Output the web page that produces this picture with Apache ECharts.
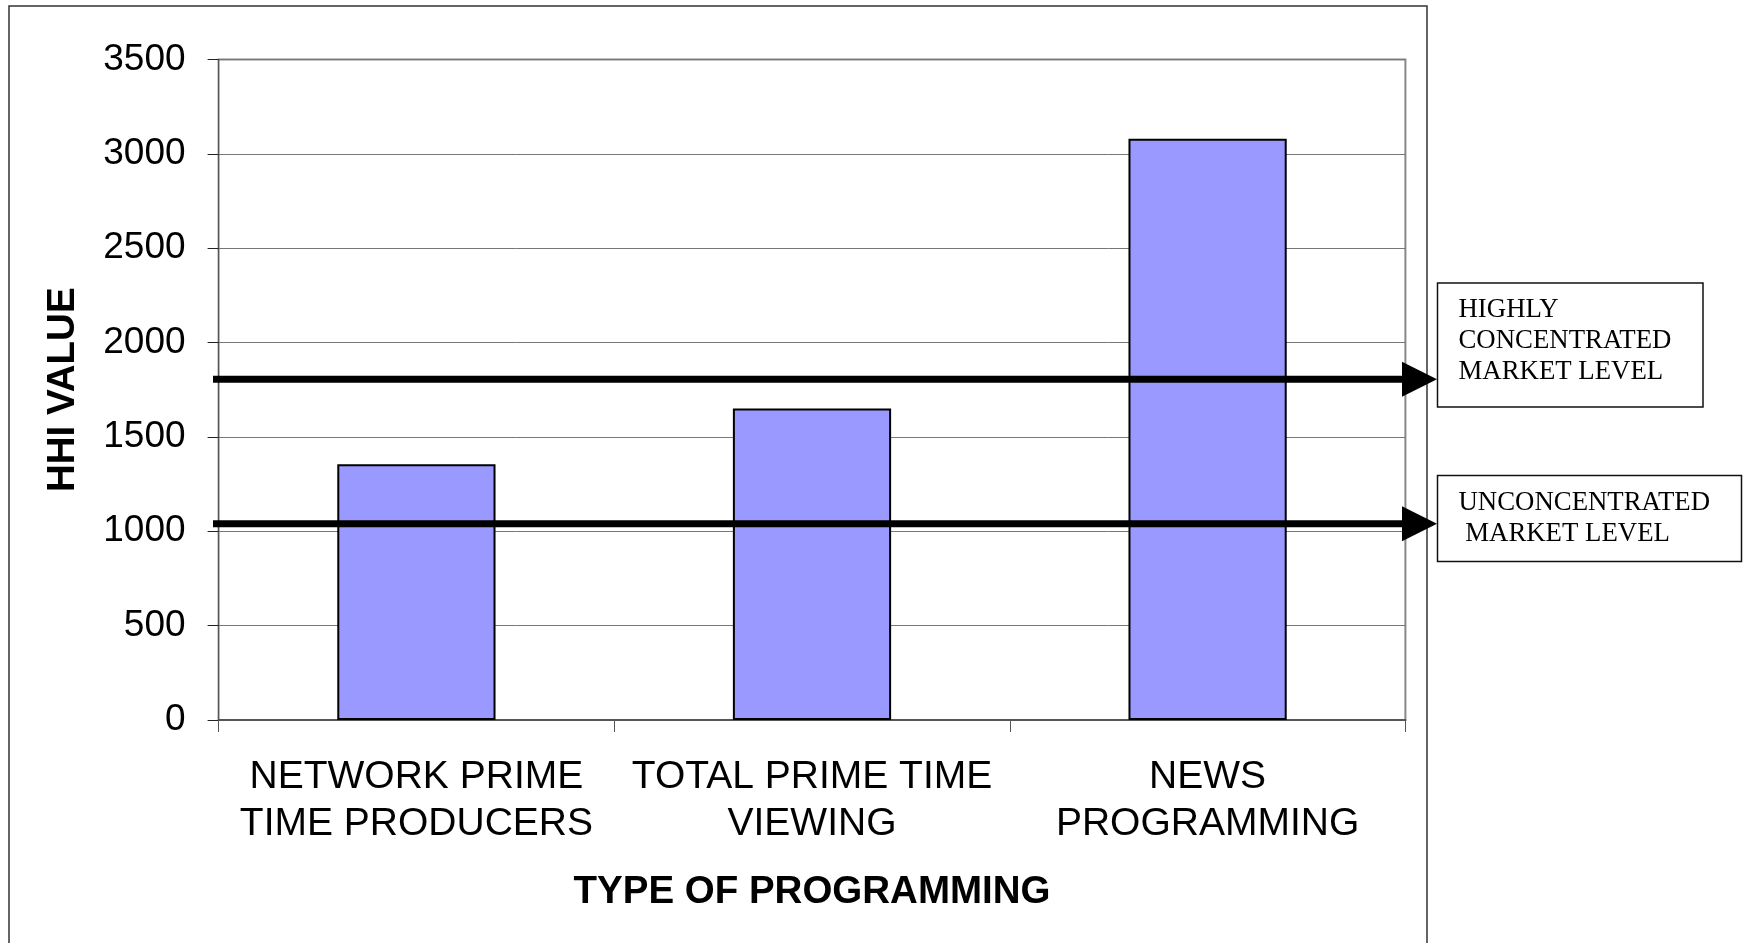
<!DOCTYPE html>
<html>
<head>
<meta charset="utf-8">
<script src="https://cdn.jsdelivr.net/npm/echarts@6/dist/echarts.min.js"></script>
<style>
html,body{margin:0;padding:0;background:#fff;}
#chart{width:1749px;height:943px;}
</style>
</head>
<body>
<div id="chart"></div>
<script>
// ---- data ----
const categories = ['NETWORK PRIME\nTIME PRODUCERS', 'TOTAL PRIME TIME\nVIEWING', 'NEWS\nPROGRAMMING'];
const hhiValues = [1355, 1650, 3080];
const thresholdValues = [1805, 1040];
const thresholdLabels = ['HIGHLY\nCONCENTRATED\nMARKET LEVEL', 'UNCONCENTRATED\n MARKET LEVEL'];
const yMin = 0, yMax = 3500, yInterval = 500;
const xAxisTitle = 'TYPE OF PROGRAMMING';
const yAxisTitle = 'HHI VALUE';

const SANS = "'Liberation Sans', Arial, sans-serif";
const SERIF = "'Liberation Serif', 'Times New Roman', serif";

const chart = echarts.init(document.getElementById('chart'), null, {renderer: 'canvas'});

const option = {
  animation: false,
  backgroundColor: '#fff',
  grid: {
    left: 218.6, right: 343.6, top: 59.5, bottom: 223,
    show: true, borderColor: '#888', borderWidth: 2, backgroundColor: 'transparent'
  },
  xAxis: {
    type: 'category',
    data: categories,
    boundaryGap: true,
    axisLine: {show: true, lineStyle: {color: '#555', width: 2}},
    axisTick: {show: true, alignWithLabel: false, length: 12, lineStyle: {color: '#555', width: 1}},
    axisLabel: {
      margin: 34, color: '#000', fontFamily: SANS, fontSize: 39, lineHeight: 47, interval: 0
    },
    name: xAxisTitle,
    nameLocation: 'middle',
    nameGap: 152,
    nameTextStyle: {color: '#000', fontFamily: SANS, fontSize: 38.5, fontWeight: 'bold', lineHeight: 40}
  },
  yAxis: {
    type: 'value',
    min: yMin, max: yMax, interval: yInterval,
    axisLine: {show: true, lineStyle: {color: '#555', width: 1}},
    axisTick: {show: true, length: 11, lineStyle: {color: '#222', width: 1}},
    axisLabel: {margin: 33, color: '#000', fontFamily: SANS, fontSize: 37,
                formatter: function (v) { return String(v); }},
    splitLine: {show: true, lineStyle: {color: '#777', width: 1}},
    name: yAxisTitle,
    nameLocation: 'middle',
    nameRotate: 90,
    nameGap: 136,
    nameTextStyle: {color: '#000', fontFamily: SANS, fontSize: 38.5, fontWeight: 'bold'}
  },
  series: [{
    type: 'bar',
    data: hhiValues,
    barWidth: '40%',
    itemStyle: {color: '#9999FF', borderColor: '#000', borderWidth: 2},
    z: 2
  }]
};
chart.setOption(option);

function drawOverlays() {
  const xLeft = 213;
  const headBase = 1402;
  const headTip = 1437;
  const half = 17.5;
  const graphics = [];
  // outer chart border
  graphics.push({
    type: 'rect', shape: {x: 9, y: 6, width: 1418, height: 960},
    style: {fill: 'none', stroke: '#333', lineWidth: 1.5}, z: 1, silent: true
  });
  thresholdValues.forEach(function (v) {
    const y = chart.convertToPixel({yAxisIndex: 0}, v);
    graphics.push({
      type: 'line', shape: {x1: xLeft, y1: y, x2: headBase + 2, y2: y},
      style: {stroke: '#000', lineWidth: 7}, z: 100, silent: true
    });
    graphics.push({
      type: 'polygon', shape: {points: [[headBase, y - half], [headTip, y], [headBase, y + half]]},
      style: {fill: '#000'}, z: 100, silent: true
    });
  });
  const boxes = [
    {x: 1437.5, y: 283, w: 265.5, h: 124, tx: 1458.5, ty: 294},
    {x: 1437.5, y: 475.5, w: 304, h: 86, tx: 1458.5, ty: 487}
  ];
  boxes.forEach(function (b, i) {
    graphics.push({
      type: 'rect', shape: {x: b.x, y: b.y, width: b.w, height: b.h},
      style: {fill: '#fff', stroke: '#111', lineWidth: 1.5}, z: 101, silent: true
    });
    graphics.push({
      type: 'text', x: b.tx, y: b.ty,
      style: {text: thresholdLabels[i], font: '26.8px ' + SERIF, fill: '#000',
              lineHeight: 31, verticalAlign: 'top', align: 'left'},
      z: 102, silent: true
    });
  });
  chart.setOption({graphic: graphics});
}
drawOverlays();
</script>
</body>
</html>
